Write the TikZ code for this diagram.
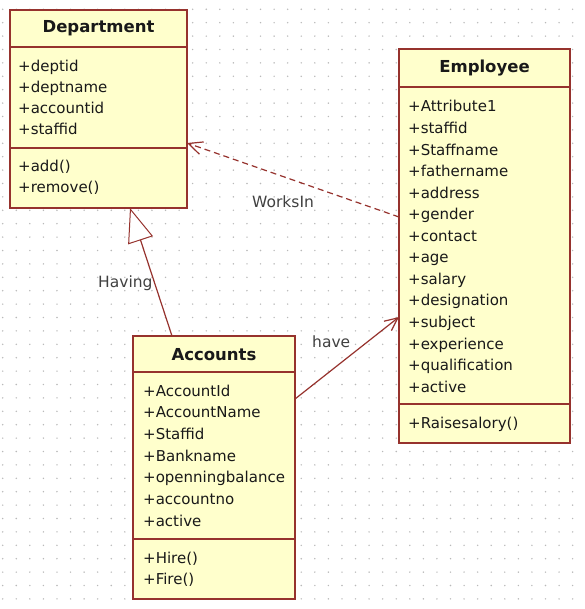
\documentclass[tikz,border=0pt]{standalone}
\usepackage{fontspec}
\setmainfont{DejaVu Sans}
\usetikzlibrary{arrows.meta}
\definecolor{clsfill}{RGB}{255,255,204}
\definecolor{clsline}{RGB}{150,50,45}
\definecolor{txt}{RGB}{25,25,25}
\definecolor{lbl}{RGB}{65,65,65}
\definecolor{dotc}{RGB}{185,185,185}

\begin{document}
\begin{tikzpicture}[x=1pt,y=-1pt,
  cls/.style={draw=clsline, line width=1.7pt, fill=clsfill, anchor=north west, inner sep=0pt, outer sep=0pt},
  sep/.style={draw=clsline, line width=1.3pt},
  attr/.style={anchor=base west, inner sep=0pt, text=txt, font=\fontsize{15}{18}\selectfont},
  title/.style={anchor=base, inner sep=0pt, text=txt, font=\fontsize{16.5}{20}\selectfont\bfseries},
  conn/.style={draw=clsline, line width=1.2pt},
  lab/.style={anchor=base west, inner sep=0pt, text=lbl, font=\fontsize{15.5}{18}\selectfont},
]
\useasboundingbox (0,0) rectangle (584,609);
\fill[white] (0,0) rectangle (584,609);

% dotted drawing grid
\foreach \i in {0,...,42} \foreach \j in {0,...,44}
  \fill[dotc] ({2.7+13.57*\i},{9.3+13.4*\j}) circle (0.8);

% ---- class boxes
\node[cls, minimum width=177pt, minimum height=198pt] (dep) at (10,10) {};
\node[cls, minimum width=171pt, minimum height=394pt] (emp) at (399,49) {};
\node[cls, minimum width=162pt, minimum height=263pt] (acc) at (133,336) {};

% compartment separators
\draw[sep] (dep.west |- 0,47) -- (dep.east |- 0,47);
\draw[sep] (dep.west |- 0,148) -- (dep.east |- 0,148);
\draw[sep] (emp.west |- 0,87) -- (emp.east |- 0,87);
\draw[sep] (emp.west |- 0,404) -- (emp.east |- 0,404);
\draw[sep] (acc.west |- 0,372) -- (acc.east |- 0,372);
\draw[sep] (acc.west |- 0,539) -- (acc.east |- 0,539);

% ---- Department
\node[title] (dep-t) at (98.5,33) {Department};
\foreach \t [count=\i from 0] in {+deptid,+deptname,+accountid,+staffid}
  \node[attr] (dep-a\i) at (18,{72+21*\i}) {\t};
\foreach \t [count=\i from 0] in {+add(),+remove()}
  \node[attr] (dep-m\i) at (18,{172+21*\i}) {\t};

% ---- Employee
\node[title] (emp-t) at (484.5,73) {Employee};
\foreach \t [count=\i from 0] in {+Attribute1,+staffid,+Staffname,+fathername,+address,+gender,+contact,+age,+salary,+designation,+subject,+experience,+qualification,+active}
  \node[attr] (emp-a\i) at (408,{112+21.55*\i}) {\t};
\node[attr] (emp-m0) at (408,428) {+Raisesalory()};

% ---- Accounts
\node[title] (acc-t) at (214,360) {Accounts};
\foreach \t [count=\i from 0] in {+AccountId,+AccountName,+Staffid,+Bankname,+openningbalance,+accountno,+active}
  \node[attr] (acc-a\i) at (143,{396+21.67*\i}) {\t};
\foreach \t [count=\i from 0] in {+Hire(),+Fire()}
  \node[attr] (acc-m\i) at (143,{563+21*\i}) {\t};

% ---- relations
\draw[conn, -{Triangle[length=34pt, width=26pt, fill=white, line width=1pt]}]
  (acc.north -| 172,0) -- (dep.south -| 130,0);
\draw[conn, dash pattern=on 6pt off 4pt, -{Straight Barb[length=14pt, width=13pt]}]
  (emp.west |- 0,217) -- (dep.east |- 0,143);
\draw[conn, -{Straight Barb[length=13pt, width=12pt]}]
  (acc.east |- 0,399) -- (emp.west |- 0,317);

% relation labels
\node[lab] (l-works) at (252,208) {WorksIn};
\node[lab] (l-having) at (98,287) {Having};
\node[lab] (l-have) at (312,347) {have};
\end{tikzpicture}
\end{document}
